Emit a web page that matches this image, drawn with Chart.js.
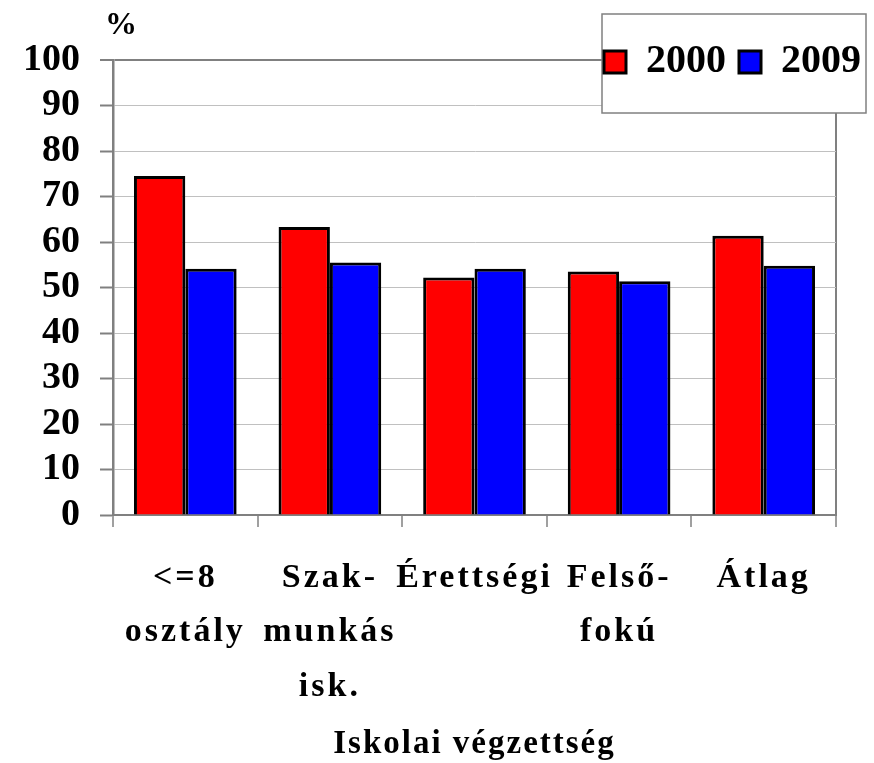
<!DOCTYPE html>
<html>
<head>
<meta charset="utf-8">
<script src="https://cdn.jsdelivr.net/npm/chart.js@4/dist/chart.umd.min.js"></script>
<style>html,body{margin:0;padding:0;background:#fff;}canvas{display:block;}</style>
</head>
<body>
<canvas id="c" width="874" height="763"></canvas>
<script>
// ---- data ----
const categories = [['<=8', 'osztály'], ['Szak-', 'munkás', 'isk.'], ['Érettségi'], ['Felső-', 'fokú'], ['Átlag']];
const seriesNames = ['2000', '2009'];
const values2000 = [74.5, 63.3, 52.2, 53.5, 61.4];
const values2009 = [54.1, 55.5, 54.1, 51.4, 54.8];
const yTickValues = [0, 10, 20, 30, 40, 50, 60, 70, 80, 90, 100];
const xAxisTitle = 'Iskolai végzettség';
const yUnitLabel = '%';

const FONT = "'Liberation Serif', 'Times New Roman', serif";
const FRAME = '#808080';
const GRID = '#c0c0c0';

function withSpacing(fn, spacing) {
  return function (...args) {
    const ctx = this.ctx;
    const prev = ctx.letterSpacing;
    ctx.letterSpacing = spacing;
    const r = fn.apply(this, args);
    ctx.letterSpacing = prev || '0px';
    return r;
  };
}

const decorPlugin = {
  id: 'decor',
  afterLayout(chart) {
    const lg = chart.legend;
    if (lg && !lg._boxWrapped) {
      const orig = lg.draw;
      lg.draw = function (...args) {
        const hb = this.legendHitBoxes;
        const ctx = this.ctx;
        if (hb && hb.length) {
          const first = hb[0], last = hb[hb.length - 1];
          const cy = first.top + first.height / 2;
          const x0 = first.left - 2, x1 = last.left + last.width + 5;
          const y0 = cy - 48, y1 = cy + 51;
          ctx.save();
          ctx.fillStyle = '#ffffff';
          ctx.fillRect(x0, y0, x1 - x0, y1 - y0);
          ctx.strokeStyle = FRAME;
          ctx.lineWidth = 1.5;
          ctx.strokeRect(x0, y0, x1 - x0, y1 - y0);
          ctx.restore();
        }
        // let the legend items overflow its (deliberately short) layout box
        const savedBottom = this.bottom;
        this.bottom = savedBottom + 80;
        const r = orig.apply(this, args);
        this.bottom = savedBottom;
        return r;
      };
      lg._boxWrapped = true;
    }
  },
  afterDraw(chart) {
    const ctx = chart.ctx;
    ctx.save();
    ctx.font = 'bold 32px ' + FONT;
    ctx.fillStyle = '#000';
    ctx.textAlign = 'center';
    ctx.textBaseline = 'middle';
    ctx.fillText(yUnitLabel, chart.chartArea.left + 8, 26);
    ctx.restore();
  }
};

new Chart(document.getElementById('c'), {
  type: 'bar',
  data: {
    labels: categories,
    datasets: [
      { label: seriesNames[0], data: values2000, backgroundColor: '#ff0000', borderColor: '#000000', borderWidth: 3, yAxisID: 'y' },
      { label: seriesNames[1], data: values2009, backgroundColor: '#0000ff', borderColor: '#000000', borderWidth: 3, yAxisID: 'y' }
    ]
  },
  options: {
    responsive: false,
    animation: false,
    devicePixelRatio: 1,
    layout: { padding: { top: 29, right: 0, bottom: 0, left: 0 } },
    datasets: { bar: { categoryPercentage: 0.71, barPercentage: 1.0 } },
    plugins: {
      tooltip: { enabled: false },
      legend: {
        display: true,
        position: 'top',
        align: 'end',
        maxHeight: 31,
        labels: {
          color: '#000',
          font: { family: FONT, size: 40, weight: 'bold' },
          boxWidth: 22,
          boxHeight: 22,
          padding: 13
        }
      }
    },
    scales: {
      x: {
        offset: true,
        grid: {
          offset: true,
          drawOnChartArea: true,
          color: (c) => (c.index === undefined ? FRAME : 'rgba(0,0,0,0)'),
          lineWidth: 2,
          tickColor: FRAME,
          tickLength: 12,
          tickWidth: 1.5
        },
        border: { display: true, color: FRAME, width: 2 },
        ticks: {
          color: '#000',
          font: { family: FONT, size: 34, weight: 'bold', lineHeight: 1.6 },
          padding: 24,
          maxRotation: 0,
          autoSkip: false
        },
        title: {
          display: true,
          text: xAxisTitle,
          color: '#000',
          font: { family: FONT, size: 33, weight: 'bold', lineHeight: 1.1 },
          padding: { top: 0, bottom: 0 }
        },
        afterFit(s) {
          s.height = 248;
          if (!s._spaced) {
            s.drawLabels = withSpacing(s.drawLabels, '3px');
            s.drawTitle = withSpacing(s.drawTitle, '2px');
            s._spaced = true;
          }
        }
      },
      y: {
        position: 'left',
        min: 0,
        max: 100,
        afterBuildTicks(s) { s.ticks = yTickValues.map(v => ({ value: v })); },
        grid: {
          color: (c) => (c.tick && (c.tick.value === 100 || c.tick.value === 0) ? FRAME : GRID),
          lineWidth: (c) => (c.tick && c.tick.value === 100 ? 2 : 1),
          tickColor: FRAME,
          tickLength: 13,
          tickWidth: 2
        },
        border: { display: true, color: FRAME, width: 2.5 },
        ticks: {
          color: '#000',
          font: { family: FONT, size: 38, weight: 'bold', lineHeight: 1.0 },
          padding: 20
        },
        afterFit(s) { s.width = 113; }
      },
      yR: {
        position: 'right',
        display: true,
        grid: { display: false, drawTicks: false },
        ticks: { display: false },
        border: { display: false },
        afterFit(s) { s.width = 38; }
      }
    }
  },
  plugins: [decorPlugin]
});
</script>
</body>
</html>
